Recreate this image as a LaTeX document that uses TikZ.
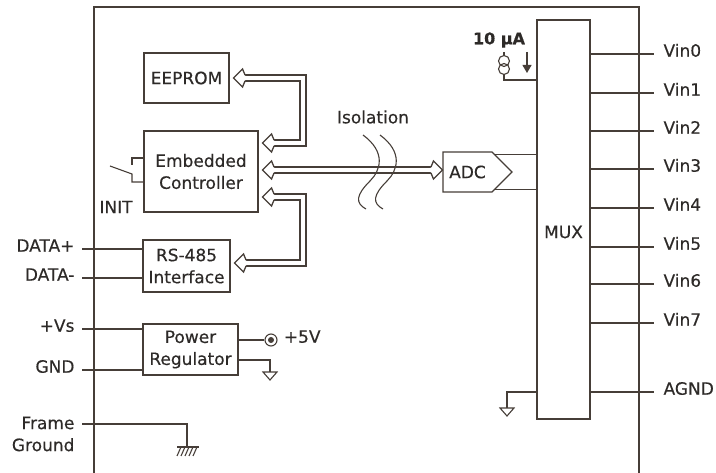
\documentclass[tikz,border=0pt]{standalone}
\usepackage{fontspec}
\setmainfont{DejaVu Sans}[FakeBold=0.35]
\usetikzlibrary{arrows.meta, positioning, shapes.symbols, calc}

\definecolor{wire}{RGB}{70,62,56}
\definecolor{ink}{RGB}{45,42,40}

\tikzset{
    block/.style={draw, fill=white, align=center, inner sep=2pt},
    bus/.style={line width=1.3pt, double=white, double distance=4.6pt},
    bushead/.pic={\draw[line width=1.3pt, fill=white] (11.5,2.95) -- (9,9) -- (0,0) -- (9,-9) -- (11.5,-2.95);},
    pinlbl/.style={inner sep=0pt},
    sgnd/.pic={\draw (-7,0) -- (7,0) -- (0,8) -- cycle;}
}

\begin{document}
\begin{tikzpicture}[
        x=1pt, y=-1pt,
        font=\fontsize{17}{22}\selectfont,
        color=wire, text=ink,
        line width=1.1pt,
        >=Stealth
    ]
    \useasboundingbox (0,0) rectangle (716,473);

    % Module outline
    \draw (94,473) -- (94,7) -- (639,7) -- (639,473);

    % Blocks
    \node[block, minimum width=85pt, minimum height=50pt] (eeprom) at (186.5,78) {EEPROM};
    \node[block, minimum width=114pt, minimum height=81pt] (ctrl) at (201,171.5) {Embedded\\Controller};
    \node[block, minimum width=87pt, minimum height=52pt] (rs485) at (186.5,266) {RS-485\\Interface};
    \node[block, minimum width=95pt, minimum height=51pt] (pwr) at (190.5,349.5) {Power\\Regulator};
    \node[block, shape=signal, signal to=east, signal pointer angle=90, minimum width=69pt, minimum height=40pt] (adc) at (467.5,172) {ADC};
    \node[block, minimum width=53pt, minimum height=399pt, label={[yshift=-12.5pt]center:MUX}] (mux) at (563.5,219.5) {};

    % Internal buses
    \draw[bus, shorten <=15pt, shorten >=15pt] (eeprom.east) -- (303,78) -- (303,143) -- (ctrl.east |- 0,143);
    \pic at ([xshift=4pt]eeprom.east) {bushead};
    \pic at ([xshift=4pt]ctrl.east |- 0,143) {bushead};

    \draw[bus, shorten <=15pt, shorten >=11pt] (ctrl.east |- 0,170) -- (adc.west |- 0,170);
    \pic at ([xshift=4pt]ctrl.east |- 0,170) {bushead};
    \pic[rotate=180] at (adc.west |- 0,170) {bushead};

    \draw[bus, shorten <=15pt, shorten >=15pt] (ctrl.east |- 0,197) -- (303,197) -- (303,263) -- (rs485.east |- 0,263);
    \pic at ([xshift=4pt]ctrl.east |- 0,197) {bushead};
    \pic at ([xshift=4pt]rs485.east |- 0,263) {bushead};

    % Isolation barrier
    \node (iso) at (373,117) {Isolation};
    \draw (363,135) .. controls (386,152) and (381,170) .. (370,181) .. controls (356,195) and (355,203) .. (366,209);
    \draw[xshift=17pt] (363,135) .. controls (386,152) and (381,170) .. (370,181) .. controls (356,195) and (355,203) .. (366,209);

    % ADC to MUX
    \draw (adc.33) -- (adc.33 -| mux.west);
    \draw (adc.-33) -- (adc.-33 -| mux.west);

    % Excitation current
    \node[font=\bfseries\fontsize{16}{20}\selectfont] (iamp) at (499,40) {10 µA};
    \draw (504,52) -- (504,80) -- (mux.west |- 0,80);
    \fill[white] (504,65) ellipse (6pt and 10pt);
    \draw (504,61) circle (5.5pt) (504,69) circle (5.5pt);
    \draw[-{Triangle[width=9pt,length=8pt]}] (527,52) -- (527,73);

    % INIT switch
    \node[pinlbl] (init) at (116,207) {INIT};
    \draw (ctrl.west |- 0,158) -- (132,158) -- (132,165);
    \draw (ctrl.west |- 0,182) -- (132,182) -- (132,174) -- (110,166);

    % Field side pins
    \foreach \y/\t/\n/\b in {249/DATA+/dplus/rs485, 278/DATA-/dminus/rs485, 329/+Vs/vs/pwr, 370/GND/gnd/pwr} {
        \node[pinlbl, anchor=mid east] (\n) at (75,\y) {\t};
        \draw ([xshift=7pt]\n.mid east) -- (\b.west |- \n.mid east);
    }

    % Frame ground
    \node[pinlbl, anchor=east, align=right] (fgnd) at (75,434) {Frame\\Ground};
    \draw (82,424) -- (187,424) -- (187,447);
    \draw (177,447) -- (199,447);
    \foreach \x in {181,185,189,193,197}
        \draw (\x,447) -- ({\x-4},456);

    % Regulator outputs
    \node[circle, draw, minimum size=12pt, inner sep=0pt] (p5v) at (271,340) {};
    \fill (p5v) circle (3pt);
    \node[anchor=mid west] (p5vlbl) at (280,340) {+5V};
    \draw (pwr.east |- p5v) -- (p5v);
    \draw (pwr.east |- 0,360) -- (270,360) -- (270,372);
    \pic at (270,372) {sgnd};

    % Analog inputs
    \foreach \y/\t in {54/Vin0, 93/Vin1, 131/Vin2, 169/Vin3, 208/Vin4, 247/Vin5, 284/Vin6, 323/Vin7, 392/AGND}
        \draw (mux.east |- 0,\y) -- (654,\y) node[pinlbl, anchor=mid west, xshift=9pt] (\t) {\t};

    % MUX ground
    \draw (mux.west |- 0,392) -- (507,392) -- (507,408);
    \pic at (507,408) {sgnd};

\end{tikzpicture}
\end{document}
